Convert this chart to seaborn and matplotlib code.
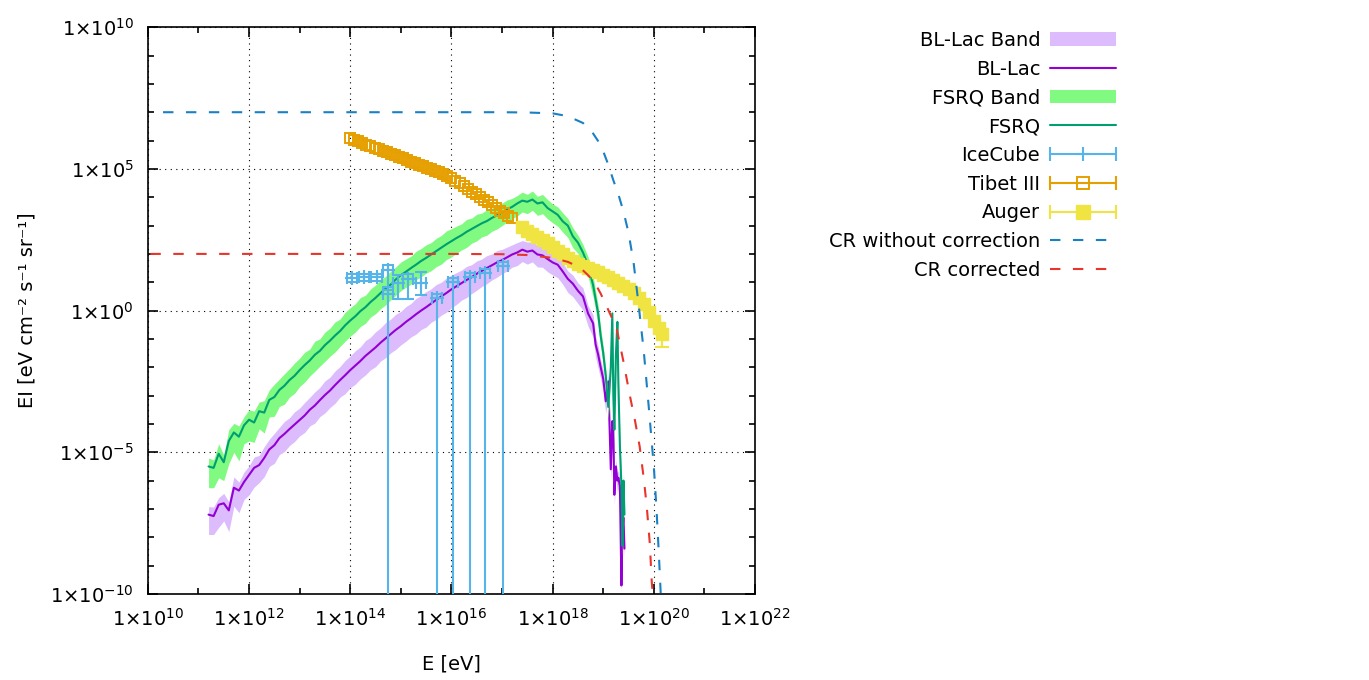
import matplotlib

matplotlib.use("Agg")
import matplotlib.pyplot as plt
import numpy as np
import seaborn as sns
from matplotlib.legend_handler import HandlerLine2D, HandlerTuple
from matplotlib.lines import Line2D
from matplotlib.patches import Patch
from matplotlib.ticker import FixedLocator, FuncFormatter, NullFormatter

# --- datos (log10 de E [eV] y log10 de EI) ---
LOG_E = [11.2, 11.3, 11.4, 11.5, 11.6, 11.7, 11.8, 11.9, 12.0,
         12.1, 12.2, 12.3, 12.4, 12.5, 12.6, 12.7, 12.8, 12.9, 13.0,
         13.1, 13.2, 13.3, 13.4, 13.5, 13.6, 13.7, 13.8, 13.9, 14.0,
         14.1, 14.2, 14.3, 14.4, 14.5, 14.6, 14.7, 14.8, 14.9, 15.0,
         15.1, 15.2, 15.3, 15.4, 15.5, 15.6, 15.7, 15.8, 15.9, 16.0,
         16.1, 16.2, 16.3, 16.4, 16.5, 16.6, 16.7, 16.8, 16.9, 17.0,
         17.1, 17.2, 17.3, 17.4, 17.5, 17.6, 17.7, 17.8, 17.9, 18.0,
         18.1, 18.2, 18.3, 18.4, 18.5, 18.6, 18.7, 18.8,
         18.85, 18.9, 18.95, 19.0, 19.05, 19.1, 19.15, 19.18, 19.2,
         19.22, 19.25, 19.28, 19.3, 19.33, 19.36, 19.38, 19.4, 19.42]

FSRQ = [-5.50, -5.55, -5.05, -5.35, -4.60, -4.30, -4.45, -4.05, -3.85,
        -3.95, -3.55, -3.60, -3.15, -3.05, -2.80, -2.65, -2.45, -2.30, -2.10,
        -1.92, -1.76, -1.56, -1.42, -1.22, -1.06, -0.88, -0.72, -0.52, -0.35,
        -0.20, -0.02, 0.12, 0.30, 0.45, 0.62, 0.78, 0.92, 1.10, 1.25,
        1.37, 1.50, 1.62, 1.75, 1.86, 1.98, 2.10, 2.22, 2.34, 2.45,
        2.56, 2.66, 2.78, 2.88, 2.98, 3.08, 3.16, 3.27, 3.36, 3.45,
        3.58, 3.66, 3.78, 3.88, 3.84, 3.92, 3.78, 3.82, 3.62, 3.50,
        3.38, 3.15, 3.00, 2.62, 2.40, 2.05, 1.60, 0.90,
        0.40, -0.10, -0.90, -1.50, -2.30, -3.40, -2.00, -0.10, -3.00,
        -4.20, -1.60, -0.40, -2.60, -4.80, -6.20, -8.30, -6.00, -7.20]

FSRQ_UP = [0.30, 0.28, 0.35, 0.25, 0.40, 0.32, 0.38, 0.30, 0.35,
           0.40, 0.32, 0.42, 0.35, 0.45, 0.38, 0.42, 0.40, 0.45, 0.42,
           0.45, 0.40, 0.48, 0.42, 0.46, 0.44, 0.48, 0.42, 0.46, 0.45,
           0.44, 0.48, 0.42, 0.46, 0.45, 0.48, 0.43, 0.47, 0.44, 0.46,
           0.45, 0.42, 0.47, 0.44, 0.46, 0.42, 0.45, 0.43, 0.47, 0.44,
           0.42, 0.40, 0.44, 0.38, 0.42, 0.36, 0.40, 0.35, 0.38, 0.34,
           0.32, 0.30, 0.28, 0.30, 0.26, 0.30, 0.25, 0.28, 0.30, 0.26,
           0.28, 0.30, 0.25, 0.30, 0.26, 0.28, 0.30, 0.32,
           0.30, 0.28, 0.30, 0.25, 0.28, 0.30, 0.25, 0.20, 0.28,
           0.25, 0.30, 0.20, 0.25, 0.28, 0.30, 0.25, 0.30, 0.30]

FSRQ_DN = [0.75, 0.70, 0.85, 0.65, 0.80, 0.70, 0.85, 0.65, 0.75,
           0.70, 0.62, 0.72, 0.60, 0.68, 0.58, 0.65, 0.60, 0.62, 0.58,
           0.60, 0.55, 0.58, 0.54, 0.57, 0.55, 0.58, 0.54, 0.56, 0.55,
           0.56, 0.54, 0.57, 0.53, 0.56, 0.55, 0.58, 0.54, 0.56, 0.55,
           0.55, 0.57, 0.53, 0.56, 0.54, 0.57, 0.55, 0.58, 0.54, 0.56,
           0.54, 0.52, 0.55, 0.50, 0.52, 0.48, 0.50, 0.47, 0.48, 0.45,
           0.45, 0.42, 0.44, 0.40, 0.42, 0.38, 0.42, 0.40, 0.38, 0.40,
           0.40, 0.38, 0.42, 0.40, 0.38, 0.42, 0.40, 0.42,
           0.40, 0.42, 0.38, 0.40, 0.42, 0.40, 0.35, 0.30, 0.40,
           0.42, 0.35, 0.30, 0.40, 0.42, 0.40, 0.35, 0.40, 0.40]

BLLAC = [-7.20, -7.25, -6.85, -6.80, -7.05, -6.25, -6.35, -6.05, -5.80,
         -5.55, -5.45, -5.20, -4.90, -4.75, -4.50, -4.35, -4.18, -4.02, -3.86,
         -3.70, -3.50, -3.35, -3.16, -2.98, -2.82, -2.63, -2.45, -2.28, -2.10,
         -1.94, -1.78, -1.60, -1.45, -1.30, -1.13, -0.98, -0.83, -0.68, -0.55,
         -0.40, -0.27, -0.13, 0.00, 0.12, 0.25, 0.38, 0.50, 0.62, 0.75,
         0.86, 0.97, 1.08, 1.18, 1.30, 1.40, 1.50, 1.60, 1.70, 1.78,
         1.88, 1.98, 2.05, 2.15, 2.08, 2.12, 1.98, 1.95, 1.82, 1.70,
         1.62, 1.38, 1.12, 0.95, 0.70, 0.50, -0.10, -0.45,
         -1.20, -1.55, -2.00, -2.40, -3.20, -2.50, -5.60, -3.90, -4.20,
         -6.50, -5.50, -6.00, -5.90, -6.20, -9.70, -7.80, -7.30, -8.40]

BLLAC_UP = [0.28, 0.32, 0.25, 0.35, 0.30, 0.38, 0.30, 0.35, 0.32,
            0.38, 0.34, 0.40, 0.36, 0.42, 0.38, 0.44, 0.40, 0.45, 0.42,
            0.46, 0.44, 0.48, 0.45, 0.50, 0.47, 0.50, 0.48, 0.52, 0.50,
            0.52, 0.50, 0.54, 0.51, 0.55, 0.52, 0.56, 0.53, 0.55, 0.52,
            0.54, 0.52, 0.56, 0.53, 0.55, 0.52, 0.54, 0.50, 0.53, 0.50,
            0.48, 0.46, 0.48, 0.44, 0.45, 0.42, 0.44, 0.40, 0.42, 0.38,
            0.36, 0.34, 0.35, 0.32, 0.34, 0.30, 0.33, 0.30, 0.32, 0.30,
            0.30, 0.32, 0.28, 0.30, 0.28, 0.30, 0.28, 0.30,
            0.28, 0.30, 0.25, 0.28, 0.25, 0.30, 0.25, 0.28, 0.25,
            0.22, 0.25, 0.28, 0.25, 0.22, 0.25, 0.28, 0.25, 0.25]

BLLAC_DN = [0.70, 0.65, 0.80, 0.62, 0.75, 0.65, 0.78, 0.62, 0.70,
            0.68, 0.62, 0.66, 0.60, 0.64, 0.58, 0.62, 0.58, 0.60, 0.56,
            0.60, 0.57, 0.62, 0.58, 0.63, 0.60, 0.64, 0.60, 0.65, 0.62,
            0.66, 0.63, 0.67, 0.64, 0.68, 0.65, 0.68, 0.66, 0.69, 0.66,
            0.68, 0.66, 0.70, 0.67, 0.70, 0.66, 0.69, 0.66, 0.68, 0.65,
            0.64, 0.60, 0.62, 0.58, 0.58, 0.55, 0.55, 0.52, 0.52, 0.48,
            0.48, 0.45, 0.46, 0.42, 0.44, 0.40, 0.44, 0.42, 0.45, 0.44,
            0.46, 0.45, 0.48, 0.46, 0.45, 0.48, 0.45, 0.48,
            0.45, 0.48, 0.42, 0.45, 0.42, 0.45, 0.40, 0.42, 0.40,
            0.35, 0.40, 0.42, 0.38, 0.35, 0.30, 0.35, 0.38, 0.35]

# IceCube: centro, limites inferior/superior (log10); -12 = barra hasta el eje
ICE_E = [14.03, 14.28, 14.52, 14.74, 14.95, 15.15, 15.40,
         14.74, 15.72, 16.03, 16.36, 16.66, 17.02]
ICE_I = [1.15, 1.18, 1.18, 1.42, 0.97, 1.10, 0.97,
         0.60, 0.45, 1.00, 1.18, 1.32, 1.57]
ICE_LO = [1.00, 1.05, 1.05, 0.85, 0.40, 0.40, 0.55,
          -12, -12, -12, -12, -12, -12]
ICE_HI = [1.30, 1.30, 1.30, 1.60, 1.25, 1.30, 1.36,
          0.72, 0.60, 1.15, 1.33, 1.47, 1.72]
ICE_DE = 0.10

TIBET_E = [14.00, 14.08, 14.16, 14.24, 14.32, 14.40, 14.48, 14.56, 14.64,
           14.72, 14.80, 14.88, 14.96, 15.04, 15.12, 15.20, 15.28, 15.36,
           15.44, 15.52, 15.60, 15.68, 15.76, 15.84, 15.92, 16.00, 16.08,
           16.16, 16.24, 16.32, 16.40, 16.48, 16.56, 16.64, 16.72, 16.80,
           16.88, 16.96, 17.04, 17.12, 17.20]
TIBET_I = [6.08, 6.03, 5.97, 5.92, 5.86, 5.81, 5.75, 5.70, 5.64,
           5.59, 5.54, 5.48, 5.43, 5.37, 5.32, 5.26, 5.21, 5.15,
           5.10, 5.04, 4.99, 4.93, 4.88, 4.82, 4.75, 4.67, 4.58,
           4.49, 4.39, 4.30, 4.20, 4.11, 4.01, 3.91, 3.82, 3.72,
           3.63, 3.53, 3.44, 3.34, 3.25]

AUGER_E = [17.4, 17.5, 17.6, 17.7, 17.8, 17.9, 18.0, 18.1, 18.2, 18.3,
           18.4, 18.5, 18.6, 18.7, 18.8, 18.9, 19.0, 19.1, 19.2, 19.3,
           19.4, 19.5, 19.6, 19.7, 19.8, 19.9, 20.0, 20.1, 20.17]
AUGER_I = [2.95, 2.82, 2.70, 2.60, 2.50, 2.40, 2.25, 2.10, 1.98, 1.85,
           1.75, 1.66, 1.58, 1.50, 1.43, 1.35, 1.26, 1.17, 1.08, 0.98,
           0.88, 0.76, 0.62, 0.45, 0.22, -0.05, -0.35, -0.60, -0.82]
AUGER_LAST_LO = -1.30

CR_RAW_E = [10.3, 11, 12, 13, 14, 15, 16, 17, 17.5, 18.0, 18.3, 18.6,
            18.8, 18.9, 19.0, 19.1, 19.2, 19.3, 19.4, 19.5, 19.6, 19.7,
            19.8, 19.9, 20.0, 20.05, 20.1, 20.15]
CR_RAW_I = [7.0, 7.0, 7.0, 7.0, 7.0, 7.0, 7.0, 7.0, 6.99, 6.96, 6.86, 6.62,
            6.25, 5.98, 5.62, 5.15, 4.60, 4.10, 3.50, 2.75, 1.70, 0.20,
            -1.40, -3.40, -5.50, -6.90, -8.60, -10.5]

CR_COR_E = [10.05, 11, 12, 13, 14, 15, 16, 17, 17.5, 18.0, 18.3, 18.54,
            18.7, 18.83, 18.95, 19.07, 19.17, 19.27, 19.4, 19.53, 19.63,
            19.72, 19.8, 19.86, 19.92, 19.96, 20.0]
CR_COR_I = [2.0, 2.0, 2.0, 2.0, 2.0, 2.0, 2.0, 1.99, 1.96, 1.86, 1.72, 1.52,
            1.25, 0.99, 0.60, 0.14, -0.25, -0.67, -1.80, -3.03, -3.90,
            -4.79, -5.90, -6.90, -8.20, -9.58, -10.5]

C_BL = "#9400d3"
C_BL_BAND = "#dcbcfc"
C_FSRQ = "#009e73"
C_FSRQ_BAND = "#80fa80"
C_ICE = "#56b4e9"
C_TIBET = "#e69f00"
C_AUGER = "#f0e442"
C_RAW = "#1a80c4"
C_COR = "#e8352b"
DASH = (0, (5, 6))


def pw(a):
    return np.power(10.0, np.asarray(a, dtype=float))


sns.set_theme(style="ticks")
plt.rcParams["font.family"] = ["DejaVu Sans"]
plt.rcParams["axes.edgecolor"] = "black"
plt.rcParams["text.color"] = "black"
plt.rcParams["axes.labelcolor"] = "black"
plt.rcParams["xtick.color"] = "black"
plt.rcParams["ytick.color"] = "black"
plt.rcParams["mathtext.default"] = "regular"

fig = plt.figure(figsize=(13.69, 6.8), dpi=100)
ax = fig.add_axes([0.108, 0.1265, 0.4435, 0.8335])
ax.set_xscale("log")
ax.set_yscale("log")

e = pw(LOG_E)
fsrq = np.asarray(FSRQ)
bl = np.asarray(BLLAC)

# bandas + lineas
ax.fill_between(e, pw(bl - np.asarray(BLLAC_DN)), pw(bl + np.asarray(BLLAC_UP)),
                color=C_BL_BAND, lw=0, zorder=2)
sns.lineplot(x=e, y=pw(bl), sort=False, estimator=None, color=C_BL,
             linewidth=1.5, ax=ax, zorder=3)
ax.fill_between(e, pw(fsrq - np.asarray(FSRQ_DN)), pw(fsrq + np.asarray(FSRQ_UP)),
                color=C_FSRQ_BAND, lw=0, zorder=4)
sns.lineplot(x=e, y=pw(fsrq), sort=False, estimator=None, color=C_FSRQ,
             linewidth=1.5, ax=ax, zorder=5)

# IceCube
ice_e = pw(ICE_E)
ice_i = pw(ICE_I)
ax.errorbar(ice_e, ice_i,
            xerr=[ice_e - pw(np.asarray(ICE_E) - ICE_DE), pw(np.asarray(ICE_E) + ICE_DE) - ice_e],
            yerr=[ice_i - pw(ICE_LO), pw(ICE_HI) - ice_i],
            fmt="+", ms=10, mew=1.5, color=C_ICE, elinewidth=1.5,
            capsize=4, capthick=1.5, zorder=6)

# Tibet III
ax.plot(pw(TIBET_E), pw(TIBET_I), ls="none", marker="s", ms=7,
        mfc="none", mec=C_TIBET, mew=1.4, zorder=7)

# Auger
ax.plot(pw(AUGER_E), pw(AUGER_I), ls="none", marker="s", ms=9,
        mfc=C_AUGER, mec=C_AUGER, zorder=8)
ax.errorbar(pw(AUGER_E[-1:]), pw(AUGER_I[-1:]),
            yerr=[pw(AUGER_I[-1:]) - pw([AUGER_LAST_LO]), [0]],
            fmt="none", ecolor=C_AUGER, elinewidth=1.5, capsize=5, capthick=1.5,
            zorder=8)

# curvas CR
sns.lineplot(x=pw(CR_RAW_E), y=pw(CR_RAW_I), sort=False, estimator=None,
             color=C_RAW, linewidth=1.5, linestyle=DASH, ax=ax, zorder=9)
sns.lineplot(x=pw(CR_COR_E), y=pw(CR_COR_I), sort=False, estimator=None,
             color=C_COR, linewidth=1.5, linestyle=DASH, ax=ax, zorder=10)

# ejes
ax.set_xlim(1e10, 1e22)
ax.set_ylim(1e-10, 1e10)
ax.xaxis.set_major_locator(FixedLocator(pw([10, 12, 14, 16, 18, 20, 22])))
ax.xaxis.set_minor_locator(FixedLocator(pw([11, 13, 15, 17, 19, 21])))
ax.yaxis.set_major_locator(FixedLocator(pw([-10, -5, 0, 5, 10])))
ax.yaxis.set_minor_locator(FixedLocator(pw([k for k in range(-10, 11) if k % 5])))
fmt = FuncFormatter(lambda v, pos: "1×10$^{%d}$" % int(round(np.log10(v))))
ax.xaxis.set_major_formatter(fmt)
ax.yaxis.set_major_formatter(fmt)
ax.xaxis.set_minor_formatter(NullFormatter())
ax.yaxis.set_minor_formatter(NullFormatter())
ax.tick_params(which="both", direction="in", top=True, right=True,
               width=1.2, color="black", labelcolor="black", labelsize=14)
ax.tick_params(which="major", length=7, pad=10)
ax.tick_params(which="minor", length=4)
for s in ax.spines.values():
    s.set_linewidth(1.2)
    s.set_color("black")
ax.grid(which="major", color="black", linestyle=(0, (1, 4)), linewidth=0.8)
ax.set_axisbelow(True)
ax.set_xlabel("E [eV]", fontsize=14, labelpad=18, color="black")
ax.set_ylabel("EI [eV cm⁻² s⁻¹ sr⁻¹]", fontsize=14, labelpad=10, color="black")

# leyenda estilo gnuplot (texto a la izquierda, muestra a la derecha)
ice_cap = Line2D([], [], color=C_ICE, lw=1.5, marker="|", ms=10, mew=1.5)
ice_mk = Line2D([], [], ls="none", color=C_ICE, marker="+", ms=10, mew=1.5)
tib_cap = Line2D([], [], color=C_TIBET, lw=1.5, marker="|", ms=10, mew=1.5)
tib_mk = Line2D([], [], ls="none", marker="s", ms=8, mfc="none", mec=C_TIBET, mew=1.4)
aug_cap = Line2D([], [], color=C_AUGER, lw=1.5, marker="|", ms=10, mew=1.5)
aug_mk = Line2D([], [], ls="none", marker="s", ms=10, mfc=C_AUGER, mec=C_AUGER)

handles = [
    Patch(facecolor=C_BL_BAND, edgecolor="none"),
    Line2D([], [], color=C_BL, lw=1.5),
    Patch(facecolor=C_FSRQ_BAND, edgecolor="none"),
    Line2D([], [], color=C_FSRQ, lw=1.5),
    (ice_cap, ice_mk),
    (tib_cap, tib_mk),
    (aug_cap, aug_mk),
    Line2D([], [], color=C_RAW, lw=1.5, linestyle=DASH),
    Line2D([], [], color=C_COR, lw=1.5, linestyle=DASH),
]
labels = ["BL-Lac Band", "BL-Lac", "FSRQ Band", "FSRQ", "IceCube", "Tibet III",
          "Auger", "CR without correction", "CR corrected"]
cap_handler = HandlerLine2D(numpoints=2, marker_pad=0)
leg = fig.legend(handles, labels, loc="upper right",
                 bbox_to_anchor=(1116 / 1369, 1 - 31 / 680),
                 frameon=False, markerfirst=False, fontsize=14,
                 handlelength=3.4, handletextpad=0.5, labelspacing=0.5,
                 borderpad=0, borderaxespad=0,
                 handler_map={tuple: HandlerTuple(ndivide=1, pad=0),
                              ice_cap: cap_handler, tib_cap: cap_handler,
                              aug_cap: cap_handler})
for t in leg.get_texts():
    t.set_color("black")

fig.savefig("out.png", dpi=100)
